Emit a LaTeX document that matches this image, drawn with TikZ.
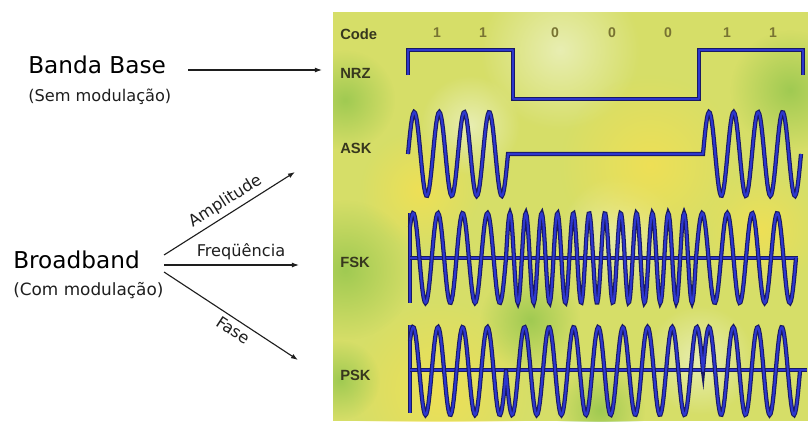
\documentclass[tikz,border=0pt]{standalone}
\usepackage{fontspec}
\setmainfont{DejaVu Sans}
\newfontfamily\panelfont{Liberation Sans}
\usetikzlibrary{positioning,arrows.meta,fadings}
\definecolor{mdBlue}{RGB}{45,55,205}
\definecolor{mdNavy}{RGB}{25,25,100}
\definecolor{mdInk}{RGB}{30,30,30}
\definecolor{mdOlive}{RGB}{55,55,30}
\definecolor{mdDigit}{RGB}{120,115,50}
\definecolor{mdBase}{RGB}{214,222,104}
\definecolor{mdPale}{RGB}{232,238,178}
\definecolor{mdYellow}{RGB}{238,224,86}
\definecolor{mdGreen}{RGB}{160,202,82}
\tikzfading[name=blobfade, inner color=transparent!0, outer color=transparent!100]

\begin{document}
\begin{tikzpicture}[x=0.025cm, y=-0.025cm,
  sig/.style={draw=mdBlue, line width=1.5pt, line join=round, preaction={draw=mdNavy, line width=3pt}},
  lbl/.style={font=\panelfont\bfseries\fontsize{10.5}{12}\selectfont, text=mdOlive, inner sep=0pt, anchor=west},
  bit/.style={font=\panelfont\bfseries\fontsize{10}{12}\selectfont, text=mdDigit, inner sep=0pt},
  big/.style={font=\fontsize{16.5}{20}\selectfont, text=black, inner sep=0pt, anchor=west},
  sub/.style={font=\fontsize{11.5}{14}\selectfont, text=mdInk, inner sep=0pt},
  arr/.style={-{Latex[length=5pt,width=3.5pt]}, mdInk, line width=0.8pt},
  tag/.style={font=\fontsize{11.5}{13}\selectfont, text=mdInk, sloped, inner sep=3pt}]
  \useasboundingbox (0,0) rectangle (808,421);

  % Textured panel
  \begin{scope}
    \clip (333,12) rectangle (808,421);
    \fill[mdBase] (333,12) rectangle (808,421);
    \foreach \cx/\cy/\r/\c in {560/50/80/mdPale, 470/125/50/mdPale, 620/235/60/mdPale,
        700/360/55/mdPale, 650/165/90/mdYellow, 440/390/90/mdYellow, 760/230/60/mdYellow,
        420/190/60/mdYellow, 345/270/70/mdGreen, 345/100/50/mdGreen, 340/380/40/mdGreen,
        790/90/60/mdGreen, 530/320/50/mdGreen, 600/410/45/mdGreen}
      \fill[\c, path fading=blobfade] (\cx,\cy) circle (\r);
  \end{scope}

  % Row labels and code bits
  \node[lbl] (code) at (340,34) {Code};
  \node[lbl] (nrz) at (340,73) {NRZ};
  \node[lbl] (ask) at (340,148) {ASK};
  \node[lbl] (fsk) at (340,262) {FSK};
  \node[lbl] (psk) at (340,375) {PSK};
  \foreach \bx/\bv [count=\i] in {437/1, 483/1, 555/0, 612/0, 668/0, 727/1, 773/1}
    \node[bit] (b\i) at (\bx,33) {\bv};

  % NRZ
  \draw[sig] (408,75) -- (408,50) -- (513,50) -- (513,99) -- (699,99) -- (699,50) -- (803,50) -- (803,75);

  % ASK
  \draw[sig] plot[domain=408:508, samples=100] (\x,{154-42*sin(360*((\x-408)/25))})
    -- plot[domain=703:801, samples=100] (\x,{154-42*sin(360*((\x-703)/24.5))});

  % FSK
  \draw[sig] (410,213) -- (410,303);
  \draw[sig] (410,258) -- (798,258);
  \draw[sig] plot[domain=410:506, samples=100] (\x,{258-45*sin(360*((\x-407)/24.75))})
    -- plot[domain=506:696, samples=240] (\x,{258-45*sin(360*((\x-506)/15.83))})
    -- plot[domain=696:796, samples=100] (\x,{258-45*sin(360*((\x-696)/25))});

  % PSK
  \draw[sig] (410,325) -- (410,413);
  \draw[sig] (410,370) -- (807,370);
  \draw[sig] plot[domain=410:506, samples=100] (\x,{371-44*sin(360*((\x-407)/24.75))})
    -- plot[domain=506:703, samples=200] (\x,{371+44*sin(360*((\x-506)/24.625))})
    -- plot[domain=703:800, samples=100] (\x,{371-44*sin(360*((\x-703)/24.25))});

  % Baseband side
  \node[big] (banda) at (28,65) {Banda Base};
  \node[sub, below=10pt of banda.south west, anchor=north west] (sem) {(Sem modulação)};
  \draw[arr] ([shift={(22,5)}]banda.east) -- ([shift={(-18,-3)}]nrz.west);

  % Broadband side
  \node[big] (broad) at (13,260) {Broadband};
  \node[sub, font=\fontsize{12}{14}\selectfont, below=9pt of broad.south west, anchor=north west] (com) {(Com modulação)};
  \coordinate (ampTip) at (295,172);
  \coordinate (freqTip) at (299,265);
  \coordinate (faseTip) at (298,360);
  \draw[arr] ([shift={(24,-5)}]broad.east) -- node[tag, above, pos=0.52] {Amplitude} (ampTip);
  \draw[arr] ([shift={(24,5)}]broad.east) -- node[tag, above, pos=0.57] {Freqüência} (freqTip);
  \draw[arr] ([shift={(24,12)}]broad.east) -- node[tag, below, pos=0.56] {Fase} (faseTip);
\end{tikzpicture}
\end{document}
